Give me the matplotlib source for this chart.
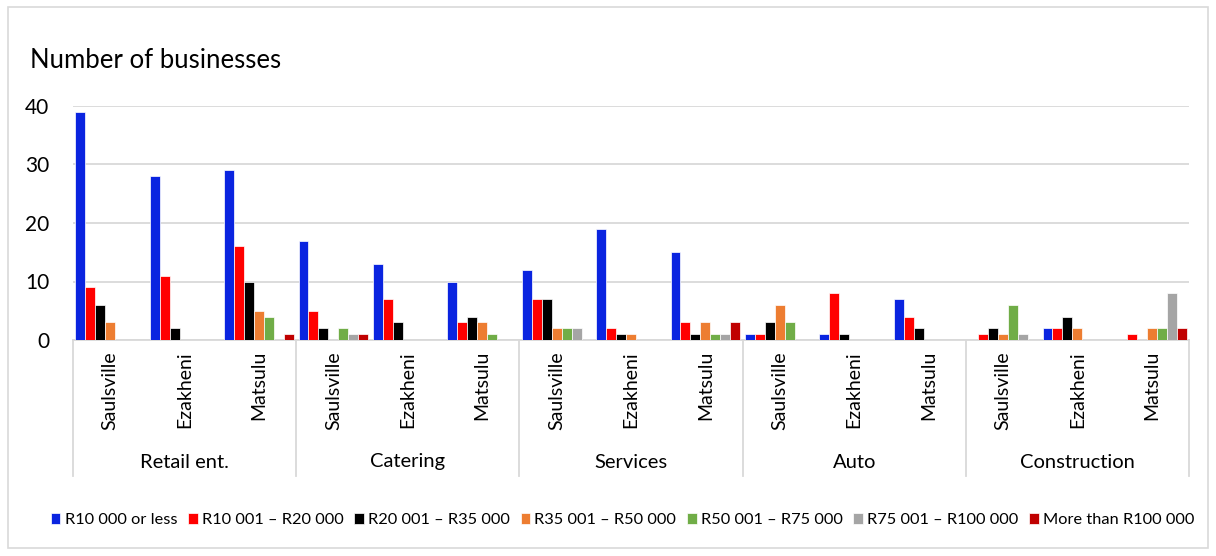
import numpy as np
import matplotlib.pyplot as plt
from matplotlib.patches import Rectangle
from matplotlib.lines import Line2D
from matplotlib.transforms import blended_transform_factory

plt.rcParams['font.family'] = ['Lato', 'DejaVu Sans']

sectors = ["Retail ent.", "Catering", "Services", "Auto", "Construction"]
towns = ["Saulsville", "Ezakheni", "Matsulu"]
bands = ["R10 000 or less", "R10 001 – R20 000", "R20 001 – R35 000",
         "R35 001 – R50 000", "R50 001 – R75 000", "R75 001 – R100 000",
         "More than R100 000"]
colors = ["#0A24E0", "#FF0000", "#000000", "#ED7D31", "#70AD47", "#A5A5A5", "#C00000"]

# counts per band, in sector/town order
r10_or_less = [39, 28, 29, 17, 13, 10, 12, 19, 15, 1, 1, 7, 0, 2, 0]
r10_r20 = [9, 11, 16, 5, 7, 3, 7, 2, 3, 1, 8, 4, 1, 2, 1]
r20_r35 = [6, 2, 10, 2, 3, 4, 7, 1, 1, 3, 1, 2, 2, 4, 0]
r35_r50 = [3, 0, 5, 0, 0, 3, 2, 1, 3, 6, 0, 0, 1, 2, 2]
r50_r75 = [0, 0, 4, 2, 0, 1, 2, 0, 1, 3, 0, 0, 6, 0, 2]
r75_r100 = [0, 0, 0, 1, 0, 0, 2, 0, 1, 0, 0, 0, 1, 0, 8]
over_r100 = [0, 0, 1, 1, 0, 0, 0, 0, 3, 0, 0, 0, 0, 0, 2]
series = [r10_or_less, r10_r20, r20_r35, r35_r50, r50_r75, r75_r100, over_r100]

W, H = 1216, 556
fig = plt.figure(figsize=(W / 100, H / 100), dpi=100)


def fy(py):
    return 1 - py / H


x0, x1 = 73, 1189
y_zero, y_top = 340, 106
ax = fig.add_axes([x0 / W, fy(y_zero), (x1 - x0) / W, (y_zero - y_top) / H])

n = len(sectors) * len(towns)
pos = np.arange(n)
w = 0.134
for k, (vals, c, lab) in enumerate(zip(series, colors, bands)):
    ax.bar(pos + (k - 3) * w, vals, width=w, color=c, edgecolor="white",
           linewidth=0.5, label=lab, zorder=3)

ax.set_xlim(-0.5, n - 0.5)
ax.set_ylim(0, 40)
ax.set_yticks([0, 10, 20, 30, 40])
ax.tick_params(axis="y", length=0, labelsize=15, pad=17, labelcolor="#000000")
ax.set_xticks([])
ax.grid(axis="y", color="#D9D9D9", linewidth=1.3, zorder=0)
for s in ["top", "right", "left"]:
    ax.spines[s].set_visible(False)
ax.spines["bottom"].set_color("#D9D9D9")
ax.spines["bottom"].set_linewidth(1.3)

# two-level category axis
tr = blended_transform_factory(ax.transData, fig.transFigure)
for i in range(n):
    ax.text(pos[i], fy(351), towns[i % 3], rotation=90, ha="center", va="top",
            fontsize=14, transform=tr)
for g, name in enumerate(sectors):
    ax.text(g * 3 + 1, fy(462), name, ha="center", va="center",
            fontsize=14.5, transform=tr)
for g in range(len(sectors) + 1):
    ax.add_line(Line2D([g * 3 - 0.5] * 2, [fy(340), fy(476)], color="#D9D9D9",
                       linewidth=1.3, transform=tr, clip_on=False))

fig.text(30 / W, fy(60), "Number of businesses", fontsize=18.5, va="center", ha="left")

handles, labels = ax.get_legend_handles_labels()
fig.legend(handles, labels, loc="center", bbox_to_anchor=(0.512, fy(520)), ncol=7,
           frameon=False, fontsize=11.8, handlelength=0.6, handleheight=0.7,
           handletextpad=0.25, columnspacing=0.65)

fig.add_artist(Rectangle((8 / W, fy(548)), (1208 - 8) / W, (548 - 7) / H,
                         transform=fig.transFigure, fill=False,
                         edgecolor="#D9D9D9", linewidth=1.2))

fig.savefig("out.png", dpi=100)
